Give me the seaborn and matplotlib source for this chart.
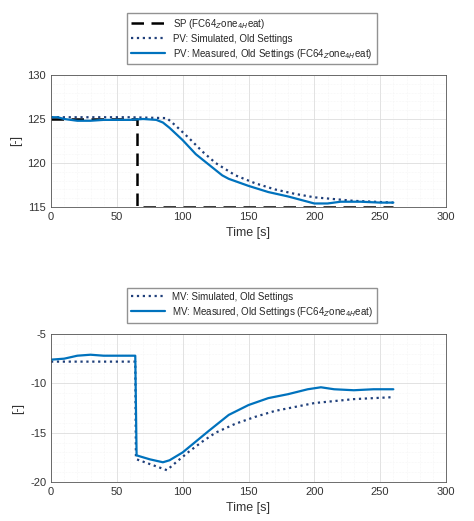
import matplotlib
matplotlib.use("Agg")
import matplotlib.pyplot as plt
import seaborn as sns
import pandas as pd

# Top plot: process value
sp_t = [0, 65, 65, 260]
sp_v = [125, 125, 115, 115]

pv_sim_t = [0, 10, 30, 60, 88, 95, 105, 115, 125, 140, 155, 170, 185, 200, 215, 230, 245, 260]
pv_sim_v = [125.2, 125.2, 125.2, 125.2, 125.1, 124.2, 122.8, 121.3, 120.0, 118.6, 117.7, 117.0, 116.5, 116.1, 115.9, 115.7, 115.6, 115.5]

pv_meas_t = [0, 5, 10, 20, 30, 40, 50, 60, 70, 80, 85, 90, 100, 110, 120, 130, 135, 150, 165, 180, 195, 200, 210, 220, 235, 250, 260]
pv_meas_v = [125.2, 125.2, 125.0, 124.8, 124.8, 124.9, 124.9, 124.9, 125.0, 124.9, 124.6, 124.0, 122.6, 121.0, 119.8, 118.6, 118.2, 117.4, 116.7, 116.2, 115.6, 115.4, 115.4, 115.6, 115.6, 115.5, 115.5]

# Bottom plot: manipulated value
mv_sim_t = [0, 64, 64.5, 65, 88, 95, 105, 115, 125, 140, 155, 170, 185, 200, 215, 230, 245, 260]
mv_sim_v = [-7.8, -7.8, -17.5, -17.7, -18.8, -18.0, -16.9, -15.9, -15.0, -14.1, -13.4, -12.8, -12.4, -12.0, -11.8, -11.6, -11.5, -11.4]

mv_meas_t = [0, 10, 20, 30, 40, 50, 63, 64, 65, 75, 85, 90, 100, 110, 120, 135, 150, 165, 180, 195, 205, 215, 230, 245, 260]
mv_meas_v = [-7.6, -7.5, -7.2, -7.1, -7.2, -7.2, -7.2, -7.2, -17.3, -17.7, -18.0, -17.8, -17.0, -15.9, -14.8, -13.2, -12.2, -11.5, -11.1, -10.6, -10.4, -10.6, -10.7, -10.6, -10.6]

tag = "FC64$_{Z}$one$_{4H}$eat"
blue = "#0072BD"
navy = "#1f3f7a"

sns.set_style("whitegrid")
plt.rcParams["font.family"] = ["Liberation Sans", "DejaVu Sans"]
plt.rcParams["axes.unicode_minus"] = False

fig = plt.figure(figsize=(4.74, 5.21), dpi=100)
ax1 = fig.add_axes([51/474, 1-207/521, 395/474, 132/521])
ax2 = fig.add_axes([51/474, 1-482/521, 395/474, 148/521])

sns.lineplot(x=sp_t, y=sp_v, ax=ax1, color="black", linestyle=(0, (5, 3)), lw=1.8,
             label=f"SP ({tag})", estimator=None, sort=False)
sns.lineplot(x=pv_sim_t, y=pv_sim_v, ax=ax1, color=navy, linestyle=":", lw=1.6,
             label="PV: Simulated, Old Settings", estimator=None, sort=False)
sns.lineplot(x=pv_meas_t, y=pv_meas_v, ax=ax1, color=blue, lw=1.6,
             label=f"PV: Measured, Old Settings ({tag})", estimator=None, sort=False)

sns.lineplot(x=mv_sim_t, y=mv_sim_v, ax=ax2, color=navy, linestyle=":", lw=1.6,
             label="MV: Simulated, Old Settings", estimator=None, sort=False)
sns.lineplot(x=mv_meas_t, y=mv_meas_v, ax=ax2, color=blue, lw=1.6,
             label=f"MV: Measured, Old Settings ({tag})", estimator=None, sort=False)

for ax, ylim, yt in [(ax1, (115, 130), [115, 120, 125, 130]), (ax2, (-20, -5), [-20, -15, -10, -5])]:
    ax.set_xlim(0, 300)
    ax.set_ylim(*ylim)
    ax.set_xticks([0, 50, 100, 150, 200, 250, 300])
    ax.set_yticks(yt)
    ax.minorticks_on()
    ax.grid(True, which="major", color="#dddddd", lw=0.6)
    ax.grid(True, which="minor", color="#eeeeee", lw=0.4, linestyle=":")
    ax.tick_params(labelsize=8, colors="#333333", which="both", length=0)
    for s in ax.spines.values():
        s.set_color("#555555")
        s.set_linewidth(0.6)
    ax.set_xlabel("Time [s]", fontsize=9, color="#333333")
    ax.set_ylabel("[-]", fontsize=9, color="#333333")

ax1.legend(loc="upper center", bbox_to_anchor=(252/474, 1-8/521), bbox_transform=fig.transFigure,
           fontsize=7, frameon=True, fancybox=False, edgecolor="#777777", handlelength=3.5,
           labelspacing=0.3, borderpad=0.4)
ax2.legend(loc="upper center", bbox_to_anchor=(252/474, 1-283/521), bbox_transform=fig.transFigure,
           fontsize=7, frameon=True, fancybox=False, edgecolor="#777777", handlelength=3.5,
           labelspacing=0.3, borderpad=0.4)

plt.savefig("out.png", dpi=100)
plt.close()
